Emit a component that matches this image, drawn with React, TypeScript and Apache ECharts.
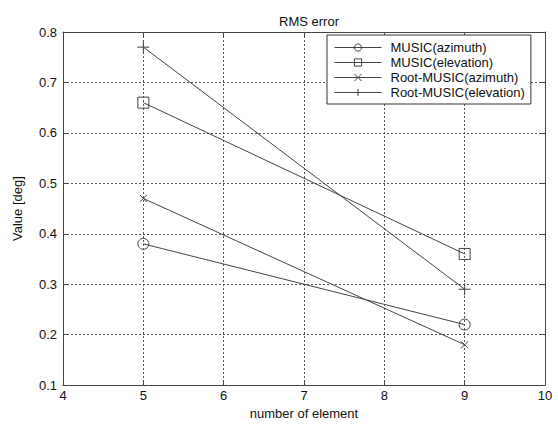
import React, { useEffect, useRef } from "react";
import * as echarts from "echarts";

const elements = [5, 9];
const musicAzimuth = [0.38, 0.22];
const musicElevation = [0.66, 0.36];
const rootAzimuth = [0.47, 0.18];
const rootElevation = [0.77, 0.29];
const seriesNames = [
  "MUSIC(azimuth)",
  "MUSIC(elevation)",
  "Root-MUSIC(azimuth)",
  "Root-MUSIC(elevation)",
];

const FONT = "Liberation Sans, Arial, sans-serif";
const LINE = "#444";
const FS = 13;

export default function App() {
  const ref = useRef<HTMLDivElement>(null);
  useEffect(() => {
    if (!ref.current) return;
    const chart = echarts.init(ref.current, undefined, { renderer: "svg" });
    const mk = (name: string, vals: number[], symbol: string, size: number) => ({
      name,
      type: "line",
      data: elements.map((x, i) => [x, vals[i]]),
      symbol,
      symbolSize: size,
      symbolKeepAspect: true,
      showSymbol: true,
      lineStyle: { color: LINE, width: 1 },
      itemStyle: { color: "rgba(0,0,0,0)", borderColor: LINE, borderWidth: 1 },
      emphasis: { disabled: true },
      z: 3,
    });
    const axisCommon = {
      axisLine: { show: true, lineStyle: { color: "#444", width: 1 } },
      axisTick: { show: true, inside: true, length: 5, lineStyle: { color: "#444" } },
    };
    chart.setOption({
      animation: false,
      backgroundColor: "#fff",
      textStyle: { fontFamily: FONT },
      title: {
        text: "RMS error",
        left: 304,
        textAlign: "center",
        top: 10,
        textStyle: { fontFamily: FONT, fontSize: FS, fontWeight: "normal", color: "#111" },
      },
      grid: { left: 63, right: 13, top: 32, bottom: 34 },
      legend: {
        data: seriesNames,
        orient: "vertical",
        left: 327,
        top: 35,
        itemWidth: 47,
        itemHeight: 9,
        itemGap: 2,
        padding: [6, 6, 5, 7],
        borderColor: "#333",
        borderWidth: 1,
        backgroundColor: "#fff",
        itemStyle: { borderWidth: 1 },
        lineStyle: { width: 1 },
        textStyle: { fontFamily: FONT, fontSize: FS, color: "#111", padding: [0, 0, 0, 4] },
        selectedMode: false,
      },
      xAxis: [
        {
          type: "value",
          min: 4,
          max: 10,
          interval: 1,
          name: "number of element",
          nameLocation: "middle",
          nameGap: 20,
          nameTextStyle: { fontFamily: FONT, fontSize: FS, color: "#111" },
          ...axisCommon,
          axisLabel: { fontFamily: FONT, fontSize: FS, color: "#111", margin: 4 },
          splitLine: { show: true, lineStyle: { color: "#555", type: [2, 2], width: 1 } },
        },
        {
          type: "value",
          position: "top",
          min: 4,
          max: 10,
          interval: 1,
          ...axisCommon,
          axisLabel: { show: false },
          splitLine: { show: false },
        },
      ],
      yAxis: [
        {
          type: "value",
          min: 0.1,
          max: 0.8,
          interval: 0.1,
          name: "Value [deg]",
          nameLocation: "middle",
          nameGap: 39,
          nameTextStyle: { fontFamily: FONT, fontSize: FS, color: "#111" },
          ...axisCommon,
          axisLabel: {
            fontFamily: FONT,
            fontSize: FS,
            color: "#111",
            margin: 6,
            formatter: (v: number) => (Math.round(v * 10) / 10).toFixed(1),
          },
          splitLine: { show: true, lineStyle: { color: "#555", type: [2, 2], width: 1 } },
        },
        {
          type: "value",
          position: "right",
          min: 0.1,
          max: 0.8,
          interval: 0.1,
          ...axisCommon,
          axisLabel: { show: false },
          splitLine: { show: false },
        },
      ],
      series: [
        mk(seriesNames[0], musicAzimuth, "circle", 11),
        mk(seriesNames[1], musicElevation, "rect", 11),
        mk(seriesNames[2], rootAzimuth, "path://M0,0L10,10M10,0L0,10", 7),
        mk(seriesNames[3], rootElevation, "path://M5,0L5,10M0,5L10,5", 12),
      ],
    });
    return () => chart.dispose();
  }, []);
  return (
    <div
      ref={ref}
      style={{ position: "fixed", left: 0, top: 0, width: 558, height: 425 }}
    />
  );
}
